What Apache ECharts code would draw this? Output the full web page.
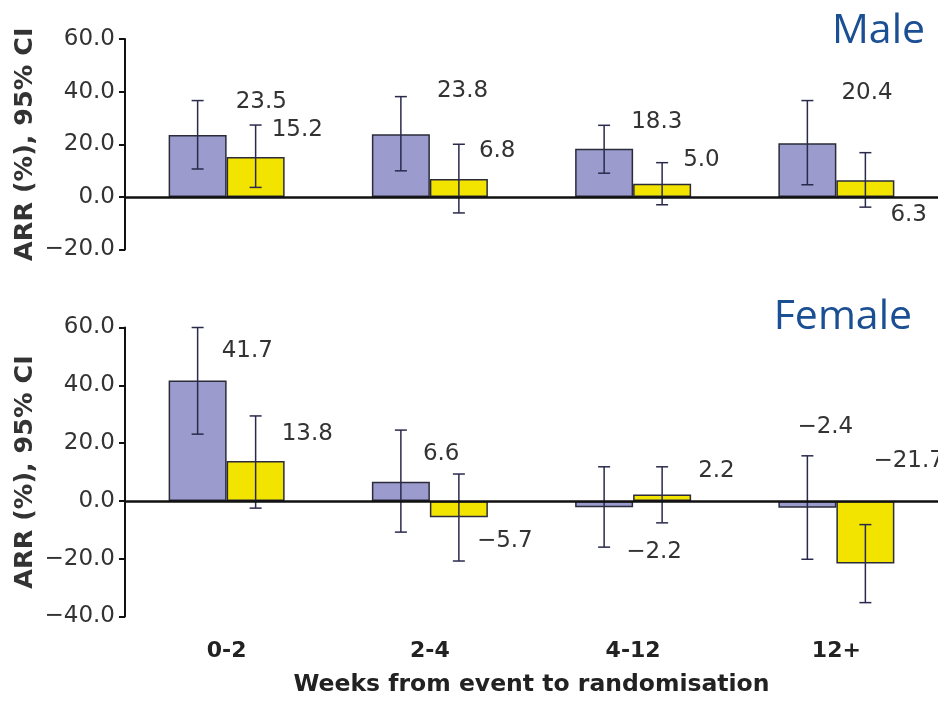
<!DOCTYPE html>
<html>
<head>
<meta charset="utf-8">
<script src="https://cdn.jsdelivr.net/npm/echarts@6/dist/echarts.min.js"></script>
<style>
  html, body { margin: 0; padding: 0; background: #ffffff; }
  #chart { width: 938px; height: 708px; }
</style>
</head>
<body>
<div id="chart"></div>
<script>
// ---- Data ----
const categories = ['0-2', '2-4', '4-12', '12+'];

const maleBlue      = [23.5, 23.8, 18.3, 20.4];
const maleBlueLo    = [10.6,  9.9,  9.0,  4.6];
const maleBlueHi    = [36.6, 38.1, 27.2, 36.6];
const maleYellow    = [15.2,  6.8,  5.0,  6.3];
const maleYellowLo  = [ 3.6, -6.1, -3.0, -3.9];
const maleYellowHi  = [27.3, 20.0, 13.0, 16.8];

const femaleBlue     = [41.7,   6.6,  -2.2,  -2.4];
const femaleBlueLo   = [23.1, -10.8, -16.0, -20.2];
const femaleBlueHi   = [60.0,  24.5,  11.8,  15.6];
const femaleYellow   = [13.8,  -5.7,   2.2, -21.7];
const femaleYellowLo = [-2.5, -20.8,  -7.6, -35.2];
const femaleYellowHi = [29.4,   9.3,  11.8,  -8.2];

const maleTicks   = { min: -20, max: 60, interval: 20 };
const femaleTicks = { min: -40, max: 60, interval: 20 };

// ---- Label placement (style only): [anchor end, dx, dy] ----
const maleBlueLabelPos     = [['hi', 38, 1], ['hi', 36, -6], ['hi', 27, -3], ['hi', 34, -8]];
const maleYellowLabelPos   = [['hi', 16, 5], ['hi', 20, 7], ['hi', 21, -3], ['lo', 25, 8]];
const femaleBlueLabelPos   = [['hi', 24, 24], ['hi', 22, 24], ['lo', 22, 5], ['hi', -10, -29]];
const femaleYellowLabelPos = [['hi', 26, 18], ['lo', 18, -20], ['hi', 36, 4], ['hi', 8, -64]];

// ---- Styles ----
const BLUE = '#9b9bcd';
const YELLOW = '#f3e400';
const BAR_W = 58;
const ERR_COLOR = '#2a2a4c';
const TXT = '#333333';
const NUM_FONT = "'DejaVu Sans', 'Liberation Sans', sans-serif";
const fmt = v => v.toFixed(1).replace('-', '\u2212');

function errData(vals, lo, hi) {
  return vals.map((v, i) => [i, lo[i], hi[i], v]);
}

function errSeries(gridIdx, vals, lo, hi, labelPos, offset) {
  return {
    type: 'custom',
    xAxisIndex: gridIdx, yAxisIndex: gridIdx,
    z: 5,
    silent: true,
    clip: false,
    data: errData(vals, lo, hi),
    renderItem: function (params, api) {
      const i = api.value(0);
      const pLo = api.coord([i, api.value(1)]);
      const pHi = api.coord([i, api.value(2)]);
      const x = pLo[0] + offset;
      const cap = 6;
      const lp = labelPos[params.dataIndex];
      const ay = lp[0] === 'hi' ? pHi[1] : pLo[1];
      const ls = { stroke: ERR_COLOR, lineWidth: 1.5 };
      return {
        type: 'group',
        children: [
          { type: 'line', shape: { x1: x, y1: pHi[1], x2: x, y2: pLo[1] }, style: ls },
          { type: 'line', shape: { x1: x - cap, y1: pHi[1], x2: x + cap, y2: pHi[1] }, style: ls },
          { type: 'line', shape: { x1: x - cap, y1: pLo[1], x2: x + cap, y2: pLo[1] }, style: ls },
          { type: 'text', style: {
              text: fmt(api.value(3)), x: x + lp[1], y: ay + lp[2],
              fill: TXT, fontSize: 23, fontFamily: NUM_FONT,
              align: 'left', verticalAlign: 'middle'
          } }
        ]
      };
    }
  };
}

function barSeries(gridIdx, vals, color, withZeroLine) {
  const s = {
    type: 'bar',
    xAxisIndex: gridIdx, yAxisIndex: gridIdx,
    data: vals,
    barWidth: BAR_W,
    barGap: '0%',
    itemStyle: { color: color, borderColor: '#2b2b3a', borderWidth: 1.5 },
    silent: true
  };
  if (withZeroLine) {
    s.markLine = {
      silent: true, symbol: 'none', label: { show: false },
      lineStyle: { color: '#111', width: 2.5, type: 'solid' },
      z: 10,
      data: [{ yAxis: 0 }]
    };
  }
  return s;
}

function yAxisDef(gridIdx, ticks) {
  return {
    type: 'value', gridIndex: gridIdx,
    min: ticks.min, max: ticks.max, interval: ticks.interval,
    name: 'ARR (%), 95% CI',
    nameLocation: 'middle',
    nameGap: 87,
    nameMoveOverlap: false,
    nameTextStyle: { fontSize: 25.5, fontWeight: 'bold', color: TXT, fontFamily: NUM_FONT },
    axisLine: { show: true, onZero: false, lineStyle: { color: '#111', width: 2 } },
    axisTick: { show: true, length: 6, lineStyle: { color: '#111', width: 2 } },
    axisLabel: { formatter: fmt, fontSize: 23, color: TXT, fontFamily: NUM_FONT, margin: 10 },
    splitLine: { show: false }
  };
}

const chart = echarts.init(document.getElementById('chart'), null, { renderer: 'canvas' });

chart.setOption({
  animation: false,
  backgroundColor: '#ffffff',
  grid: [
    { left: 125, right: 0, top: 39, height: 210.5 },
    { left: 125, right: 0, top: 327.5, height: 289 }
  ],
  xAxis: [
    { type: 'category', gridIndex: 0, data: categories,
      axisLine: { show: false }, axisTick: { show: false }, axisLabel: { show: false } },
    { type: 'category', gridIndex: 1, data: categories,
      axisLine: { show: false, onZero: false }, axisTick: { show: false },
      axisLabel: { fontSize: 22, fontWeight: 'bold', color: '#222', fontFamily: NUM_FONT, margin: 24 },
      name: 'Weeks from event to randomisation',
      nameLocation: 'middle', nameGap: 56,
      nameTextStyle: { fontSize: 23.5, fontWeight: 'bold', color: '#222', fontFamily: NUM_FONT } }
  ],
  yAxis: [yAxisDef(0, maleTicks), yAxisDef(1, femaleTicks)],
  graphic: [
    { type: 'text', right: 13, top: 11, silent: true,
      style: { text: 'Male', fill: '#1b4f93', fontSize: 41, fontFamily: "'Open Sans', 'Noto Sans', sans-serif" } },
    { type: 'text', right: 26, top: 297, silent: true,
      style: { text: 'Female', fill: '#1b4f93', fontSize: 41, fontFamily: "'Open Sans', 'Noto Sans', sans-serif" } }
  ],
  series: [
    barSeries(0, maleBlue, BLUE, true),
    barSeries(0, maleYellow, YELLOW, false),
    barSeries(1, femaleBlue, BLUE, true),
    barSeries(1, femaleYellow, YELLOW, false),
    errSeries(0, maleBlue, maleBlueLo, maleBlueHi, maleBlueLabelPos, -BAR_W / 2),
    errSeries(0, maleYellow, maleYellowLo, maleYellowHi, maleYellowLabelPos, BAR_W / 2),
    errSeries(1, femaleBlue, femaleBlueLo, femaleBlueHi, femaleBlueLabelPos, -BAR_W / 2),
    errSeries(1, femaleYellow, femaleYellowLo, femaleYellowHi, femaleYellowLabelPos, BAR_W / 2)
  ]
});
</script>
</body>
</html>
